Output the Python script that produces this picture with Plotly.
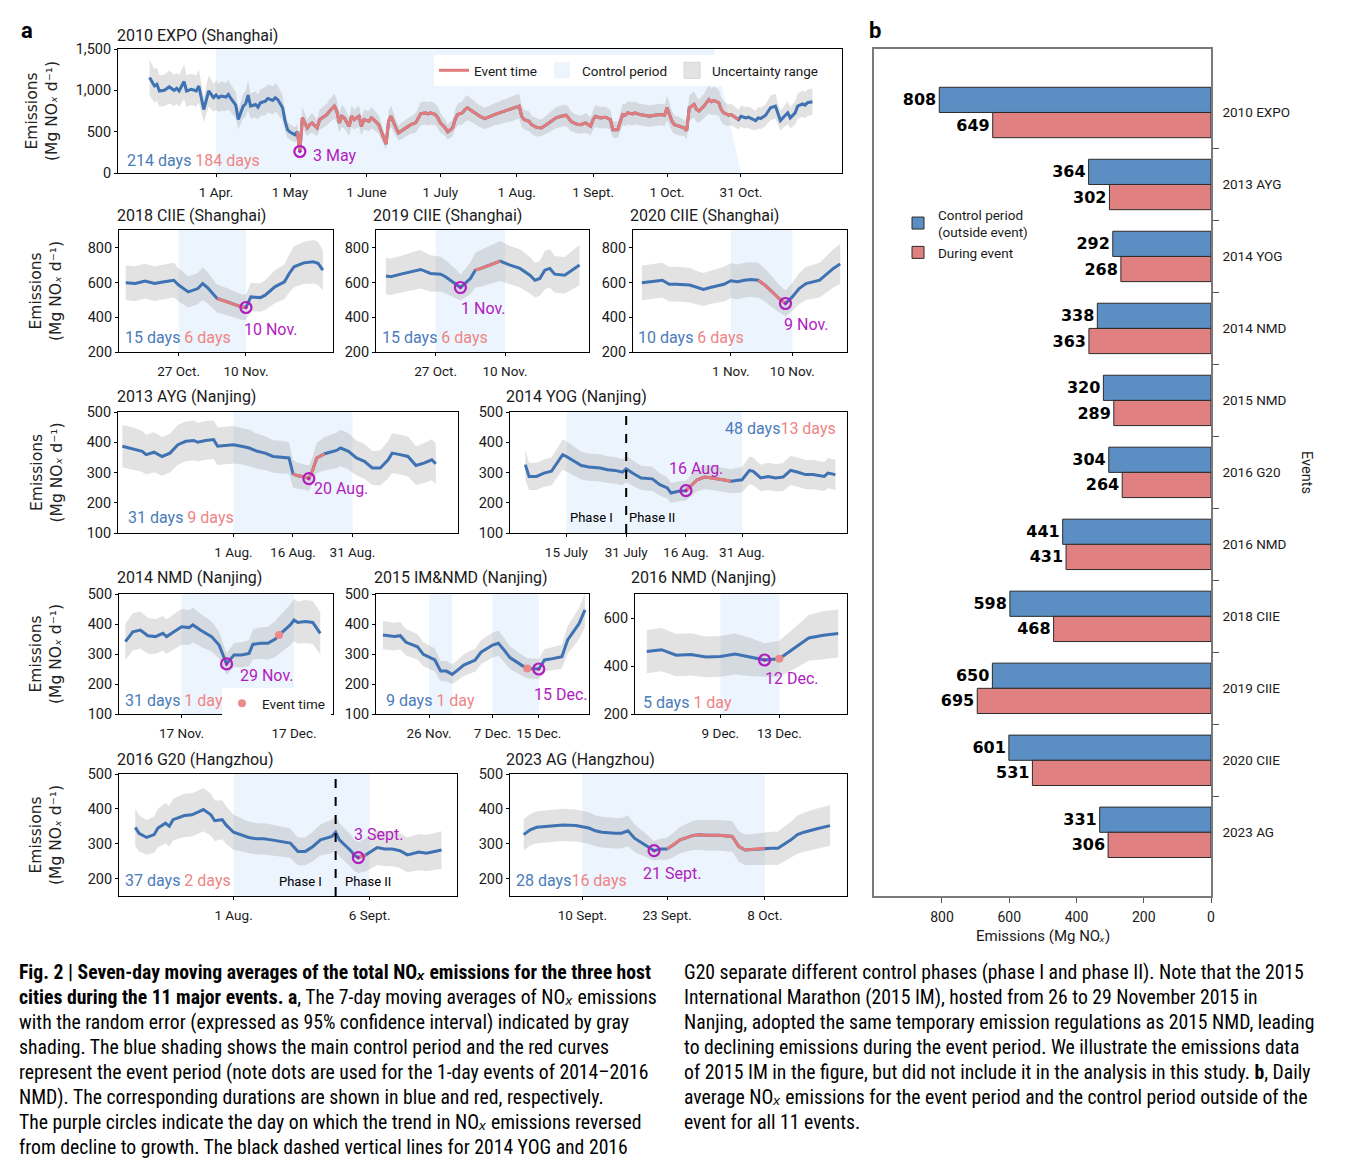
import pandas as pd
import plotly.graph_objects as go

# =========================== DATA ===========================
# Each series: (day offset from base date, 7-day mean NOx emission [Mg NOx/d], half-width of 95% CI)

EXPO_BASE = "2010-04-01"
EXPO = [(-27,1154,220),(-25,1053,200),(-24,1073,200),(-23,992,190),(-21,1000,190),(-19,1041,200),
        (-17,1000,190),(-16,1024,190),(-15,992,190),(-13,1106,210),(-12,992,190),(-10,1012,190),
        (-8,992,190),(-7,1053,200),(-5,768,150),(-4,870,170),(-3,992,190),(-1,911,170),(0,943,180),
        (1,911,170),(2,931,180),(4,919,170),(5,951,180),(6,902,170),(8,821,160),(9,646,120),
        (11,809,150),(12,837,160),(13,943,180),(14,809,150),(16,829,160),(17,797,150),(18,850,160),
        (20,870,170),(21,902,170),(23,878,170),(24,911,170),(25,890,170),(27,789,150),(28,626,120),
        (29,524,100),(30,496,90),(32,463,90),(33,500,100),(34,260,60),(35,667,130),(37,545,100),
        (38,585,110),(39,606,120),(41,545,100),(42,646,120),(44,687,130),(45,707,130),(46,748,140),
        (48,809,150),(49,748,140),(50,606,120),(51,687,130),(52,667,130),(54,565,110),(55,687,130),
        (56,646,120),(58,687,130),(59,565,110),(60,646,120),(62,626,120),(63,667,130),(64,646,120),
        (66,585,110),(67,504,100),(69,350,70),(70,626,120),(71,687,130),(73,545,100),(74,484,90),
        (75,504,100),(77,545,100),(78,565,110),(79,585,110),(81,606,120),(82,659,130),(83,715,140),
        (85,728,140),(86,715,140),(87,728,140),(89,707,130),(90,667,130),(91,606,120),(93,545,100),
        (94,496,90),(96,545,100),(97,646,120),(98,707,130),(100,728,140),(101,768,150),(102,789,150),
        (104,748,140),(105,728,140),(106,707,130),(107,687,130),(109,659,130),(111,687,130),
        (113,707,130),(115,728,140),(117,748,140),(119,768,150),(121,789,150),(123,809,150),
        (124,687,130),(125,646,120),(127,626,120),(128,585,110),(130,553,110),(132,545,100),
        (134,585,110),(136,626,120),(138,667,130),(140,687,130),(142,699,130),(143,667,130),
        (144,626,120),(146,594,110),(148,585,110),(150,606,120),(152,565,110),(153,646,120),
        (154,687,130),(156,667,130),(158,675,130),(160,646,120),(161,524,100),(163,524,100),
        (165,707,130),(166,699,130),(167,728,140),(169,715,140),(170,728,140),(172,707,130),
        (174,699,130),(176,687,130),(178,699,130),(180,707,130),(182,699,130),(183,789,150),
        (185,626,120),(186,585,110),(188,565,110),(190,545,100),(191,512,100),(192,789,150),
        (194,829,160),(195,768,150),(196,748,140),(198,809,150),(200,890,170),(201,862,160),
        (202,878,170),(204,850,160),(205,768,150),(206,728,140),(208,699,130),(209,707,130),
        (210,687,130),(212,646,120),(213,687,130),(215,667,130),(216,675,130),(217,659,130),
        (219,634,120),(220,667,130),(221,659,130),(223,699,130),(224,748,140),(225,789,150),
        (227,809,150),(228,707,130),(229,634,120),(231,699,130),(232,728,140),(233,667,130),
        (235,728,140),(236,809,150),(238,837,160),(239,821,160),(240,850,160),(242,862,160)]
EXPO_EVENT = (33, 212)
EXPO_CTRL = [(0, 213, 202)]          # start, end at bottom, end at top (slanted edge)
EXPO_CIRCLE = 34
EXPO_DUR = ("214 days", "184 days")
EXPO_XTICKS = ["2010-04-01","2010-05-01","2010-06-01","2010-07-01","2010-08-01","2010-09-01","2010-10-01","2010-10-31"]
EXPO_XTEXT = ["1 Apr.","1 May","1 June","1 July","1 Aug.","1 Sept.","1 Oct.","31 Oct."]

CIIE18_BASE = "2018-10-27"
CIIE18 = [(-11,598,100),(-9,594,100),(-7,608,100),(-5,594,100),(-3,604,100),(-1,613,100),(0,585,95),
          (2,546,90),(4,565,90),(5,594,95),(6,571,90),(8,508,80),(10,490,78),(11,479,76),(13,460,74),
          (14,456,74),(15,517,80),(17,513,82),(18,527,86),(20,575,95),(22,604,100),(23,652,110),
          (24,690,118),(26,713,122),(28,719,125),(29,710,125),(30,671,115)]
CIIE18_EVENT = (8, 14)
CIIE18_CTRL = [(0, 14)]
CIIE18_CIRCLE = 14
CIIE18_DUR = ("15 days", "6 days")
CIIE18_XTICKS = ["2018-10-27","2018-11-10"]
CIIE18_XTEXT = ["27 Oct.","10 Nov."]

CIIE19_BASE = "2019-10-27"
CIIE19 = [(-10,637,105),(-9,633,105),(-7,648,105),(-4,671,110),(-3,675,110),(-1,652,105),(1,648,100),
          (2,633,95),(4,594,85),(5,571,75),(7,623,90),(8,671,100),(9,680,105),(11,700,110),(13,723,115),
          (15,700,110),(17,681,110),(19,642,105),(20,613,100),(21,623,100),(22,671,110),(23,681,110),
          (24,648,105),(26,642,105),(27,661,110),(29,700,115)]
CIIE19_EVENT = (8, 13)
CIIE19_CTRL = [(0, 14)]
CIIE19_CIRCLE = 5
CIIE19_DUR = ("15 days", "6 days")
CIIE19_XTICKS = ["2019-10-27","2019-11-10"]
CIIE19_XTEXT = ["27 Oct.","10 Nov."]

CIIE20_BASE = "2020-11-01"
CIIE20 = [(-13,598,100),(-12,604,100),(-10,613,100),(-9,590,100),(-8,590,100),(-6,585,100),(-5,571,95),
          (-4,560,95),(-3,571,95),(-1,590,100),(0,610,100),(1,604,100),(2,613,100),(3,617,100),(4,613,100),
          (5,585,95),(6,548,90),(7,510,80),(8,479,75),(9,517,80),(10,565,90),(11,594,95),(13,613,100),
          (14,648,105),(15,681,110),(16,706,115)]
CIIE20_EVENT = (4, 8)
CIIE20_CTRL = [(0, 9)]
CIIE20_CIRCLE = 8
CIIE20_DUR = ("10 days", "6 days")
CIIE20_XTICKS = ["2020-11-01","2020-11-10"]
CIIE20_XTEXT = ["1 Nov.","10 Nov."]

AYG_BASE = "2013-08-01"
AYG = [(-28,387,70),(-26,381,70),(-23,370,68),(-22,359,66),(-20,367,66),(-18,353,64),(-16,364,64),
       (-14,392,66),(-12,403,66),(-10,406,66),(-9,400,64),(-7,406,64),(-5,409,64),(-4,387,62),(-2,389,62),
       (0,392,62),(2,387,60),(4,381,60),(6,370,58),(8,364,56),(10,353,54),(12,351,54),(14,348,52),
       (15,296,45),(16,290,44),(18,285,42),(19,280,42),(20,309,45),(21,348,50),(23,362,55),(26,373,58),
       (27,381,60),(29,370,60),(31,348,58),(33,337,58),(35,315,56),(37,315,58),(39,342,62),(40,364,66),
       (42,359,66),(44,353,66),(46,323,64),(48,331,66),(50,342,68),(51,329,68)]
AYG_EVENT = (15, 23)
AYG_CTRL = [(0, 30)]
AYG_CIRCLE = 19
AYG_DUR = ("31 days", "9 days")
AYG_XTICKS = ["2013-08-01","2013-08-16","2013-08-31"]
AYG_XTEXT = ["1 Aug.","16 Aug.","31 Aug."]

YOG_BASE = "2014-07-31"
YOG = [(-27,326,50),(-26,287,45),(-24,287,45),(-22,298,45),(-20,304,46),(-17,359,50),(-16,353,50),
       (-14,337,48),(-12,323,46),(-10,318,45),(-7,315,45),(-5,309,44),(-3,307,44),(-1,301,43),(0,312,44),
       (2,296,42),(4,282,40),(7,279,40),(9,260,37),(11,249,35),(12,232,33),(14,238,33),(15,238,33),
       (16,240,33),(19,276,38),(21,285,40),(23,282,40),(26,276,40),(28,271,40),(31,276,42),(33,307,46),
       (34,304,46),(36,282,44),(38,287,45),(40,282,45),(42,285,46),(44,307,48),(46,301,48),(48,293,48),
       (50,293,48),(53,287,48),(54,298,50),(56,293,50)]
YOG_EVENT = (16, 28)
YOG_CTRL = [(-16, 31)]
YOG_CIRCLE = 16
YOG_SPLIT = 0
YOG_DUR = ("48 days", "13 days")
YOG_XTICKS = ["2014-07-15","2014-07-31","2014-08-16","2014-08-31"]
YOG_XTEXT = ["15 July","31 July","16 Aug.","31 Aug."]

NMD14_BASE = "2014-11-17"
NMD14 = [(-15,341,60),(-13,374,62),(-11,380,62),(-9,361,60),(-7,358,58),(-5,369,58),(-4,358,57),
         (-2,374,58),(0,391,60),(2,388,58),(3,397,58),(5,380,55),(8,358,50),(10,330,45),(11,297,40),
         (12,267,36),(14,297,40),(16,297,42),(18,302,44),(19,332,50),(21,336,52),(23,336,55),(25,350,60),
         (26,363,62),(29,397,68),(30,413,70),(31,405,70),(33,408,72),(35,405,72),(37,369,70)]
NMD14_DOT = 26
NMD14_CTRL = [(0, 30)]
NMD14_CIRCLE = 12
NMD14_DUR = ("31 days", "1 day")
NMD14_XTICKS = ["2014-11-17","2014-12-17"]
NMD14_XTEXT = ["17 Nov.","17 Dec."]

NMD15_BASE = "2015-11-26"
NMD15 = [(-8,363,47),(-6,358,46),(-5,361,46),(-4,339,44),(-2,324,42),(-1,299,40),(1,280,38),(2,243,34),
         (3,243,34),(4,232,33),(5,247,34),(6,263,36),(8,280,38),(9,306,40),(11,330,42),(12,336,42),
         (13,313,40),(14,288,38),(16,263,35),(17,252,34),(19,250,34),(20,280,37),(21,283,38),(23,291,40),
         (24,347,46),(26,402,52),(27,447,56)]
NMD15_DOT = 17
NMD15_CTRL = [(0, 4), (11, 19)]
NMD15_CIRCLE = 19
NMD15_DUR = ("9 days", "1 day")
NMD15_XTICKS = ["2015-11-26","2015-12-07","2015-12-15"]
NMD15_XTEXT = ["26 Nov.","7 Dec.","15 Dec."]

NMD16_BASE = "2016-12-09"
NMD16 = [(-5,460,90),(-4,468,90),(-3,445,88),(-2,448,88),(-1,438,85),(0,440,85),(1,450,85),(2,438,80),
         (3,425,70),(4,430,75),(5,472,85),(6,517,95),(7,528,100),(8,535,100)]
NMD16_DOT = 4
NMD16_CTRL = [(0, 4)]
NMD16_CIRCLE = 3
NMD16_DUR = ("5 days", "1 day")
NMD16_XTICKS = ["2016-12-09","2016-12-13"]
NMD16_XTEXT = ["9 Dec.","13 Dec."]

G20_BASE = "2016-08-01"
G20 = [(-26,347,53),(-25,330,52),(-23,318,50),(-21,326,52),(-20,345,55),(-18,359,58),(-17,350,58),
       (-16,369,60),(-13,381,62),(-11,383,62),(-9,393,62),(-8,398,62),(-6,383,60),(-5,366,58),(-3,369,56),
       (-2,354,54),(0,333,50),(2,326,48),(4,318,46),(6,314,45),(8,314,45),(10,311,44),(13,306,43),
       (15,302,42),(17,278,40),(19,278,40),(21,292,42),(23,311,45),(26,321,48),(27,333,50),(28,311,48),
       (31,280,46),(32,266,45),(33,260,45),(34,265,46),(35,268,47),(38,289,50),(40,285,50),(42,285,50),
       (44,280,50),(46,268,50),(49,276,52),(51,273,52),(53,278,53),(55,282,54)]
G20_EVENT = (33, 35)
G20_CTRL = [(0, 36)]
G20_CIRCLE = 33
G20_SPLIT = 27
G20_DUR = ("37 days", "2 days")
G20_XTICKS = ["2016-08-01","2016-09-06"]
G20_XTEXT = ["1 Aug.","6 Sept."]

AG_BASE = "2023-09-10"
AG = [(-9,326,45),(-8,340,45),(-7,347,46),(-5,350,46),(-4,352,46),(-3,354,46),(-1,352,46),(1,345,45),
      (2,337,44),(3,333,44),(5,330,44),(6,330,44),(7,337,44),(8,316,40),(10,292,32),(11,280,28),
      (12,285,30),(13,285,32),(14,297,35),(15,311,38),(17,324,42),(18,326,43),(19,324,44),(21,324,44),
      (23,321,44),(24,292,44),(25,282,44),(27,285,46),(28,287,46),(29,287,47),(30,287,48),(32,311,52),
      (33,326,55),(34,333,56),(36,343,58),(37,347,58),(38,352,58)]
AG_EVENT = (13, 28)
AG_CTRL = [(0, 28)]
AG_CIRCLE = 11
AG_DUR = ("28 days", "16 days")
AG_XTICKS = ["2023-09-10","2023-09-23","2023-10-08"]
AG_XTEXT = ["10 Sept.","23 Sept.","8 Oct."]

# Panel b
BAR_EVENTS = ["2010 EXPO","2013 AYG","2014 YOG","2014 NMD","2015 NMD","2016 G20",
              "2016 NMD","2018 CIIE","2019 CIIE","2020 CIIE","2023 AG"]
BAR_CONTROL = [808, 364, 292, 338, 320, 304, 441, 598, 650, 601, 331]
BAR_DURING = [649, 302, 268, 363, 289, 264, 431, 468, 695, 531, 306]

NOX = "NO<i>ₓ</i>"
CAPTION_LEFT = [
    "<b>Fig. 2 | Seven-day moving averages of the total " + NOX + " emissions for the three host</b>",
    "<b>cities during the 11 major events. a</b>, The 7-day moving averages of " + NOX + " emissions",
    "with the random error (expressed as 95% confidence interval) indicated by gray",
    "shading. The blue shading shows the main control period and the red curves",
    "represent the event period (note dots are used for the 1-day events of 2014–2016",
    "NMD). The corresponding durations are shown in blue and red, respectively.",
    "The purple circles indicate the day on which the trend in " + NOX + " emissions reversed",
    "from decline to growth. The black dashed vertical lines for 2014 YOG and 2016",
]
CAPTION_RIGHT = [
    "G20 separate different control phases (phase I and phase II). Note that the 2015",
    "International Marathon (2015 IM), hosted from 26 to 29 November 2015 in",
    "Nanjing, adopted the same temporary emission regulations as 2015 NMD, leading",
    "to declining emissions during the event period. We illustrate the emissions data",
    "of 2015 IM in the figure, but did not include it in the analysis in this study. <b>b</b>, Daily",
    "average " + NOX + " emissions for the event period and the control period outside of the",
    "event for all 11 events.",
]

# =========================== STYLE / LAYOUT ===========================
W, H, OFF = 1335, 1155, 8


def PX(x):
    return (x - OFF) / W


def PY(y):
    return 1 - (y - OFF) / H


BLUE_LINE = "#3e72b3"
RED_LINE = "#e37b7b"
PURPLE = "#b11cbf"
CTRL_FILL = "#ecf4fd"
BAND_FILL = "rgba(165,165,165,0.32)"
BAND_SWATCH = "#e3e3e3"
BLUE_TXT = "#4a7cb9"
RED_TXT = "#ee8585"
BAR_BLUE = "#5b8fc3"
BAR_RED = "#e18080"
FONT = "Roboto, Noto Sans, sans-serif"
CAP_FONT = "Liberation Sans Narrow, Arial Narrow, Roboto Condensed, Liberation Sans, DejaVu Sans, sans-serif"


def to_dates(base, days):
    b = pd.Timestamp(base)
    return [(b + pd.Timedelta(days=float(d))).strftime("%Y-%m-%d %H:%M") for d in days]


panels = [
    dict(title="2010 EXPO (Shanghai)", data=EXPO, base=EXPO_BASE, event=EXPO_EVENT, dot=None,
         circle=EXPO_CIRCLE, clab="3 May", ctrl=EXPO_CTRL, yr=(0, 1500), yt=[0, 500, 1000, 1500],
         xt=EXPO_XTICKS, xtt=EXPO_XTEXT, dur=EXPO_DUR, split=None,
         box=(118, 842, 49, 173), xr=(-39.8, 254.0), tpos=(115, 35), lpos=(311, 156), dpos=(125, 160),
         dsep=" ", ytitle=42),
    dict(title="2018 CIIE (Shanghai)", data=CIIE18, base=CIIE18_BASE, event=CIIE18_EVENT, dot=None,
         circle=CIIE18_CIRCLE, clab="10 Nov.", ctrl=CIIE18_CTRL, yr=(200, 902), yt=[200, 400, 600, 800],
         xt=CIIE18_XTICKS, xtt=CIIE18_XTEXT, dur=CIIE18_DUR, split=None,
         box=(119, 333, 230, 352), xr=(-12.4, 32.1), tpos=(115, 216), lpos=(242, 329), dpos=(123, 337),
         dsep=" ", ytitle=46),
    dict(title="2019 CIIE (Shanghai)", data=CIIE19, base=CIIE19_BASE, event=CIIE19_EVENT, dot=None,
         circle=CIIE19_CIRCLE, clab="1 Nov.", ctrl=CIIE19_CTRL, yr=(200, 902), yt=[200, 400, 600, 800],
         xt=CIIE19_XTICKS, xtt=CIIE19_XTEXT, dur=CIIE19_DUR, split=None,
         box=(376, 589, 230, 352), xr=(-12.0, 30.9), tpos=(371, 216), lpos=(459, 308), dpos=(380, 337),
         dsep=" ", ytitle=None),
    dict(title="2020 CIIE (Shanghai)", data=CIIE20, base=CIIE20_BASE, event=CIIE20_EVENT, dot=None,
         circle=CIIE20_CIRCLE, clab="9 Nov.", ctrl=CIIE20_CTRL, yr=(200, 902), yt=[200, 400, 600, 800],
         xt=CIIE20_XTICKS, xtt=CIIE20_XTEXT, dur=CIIE20_DUR, split=None,
         box=(633, 847, 230, 352), xr=(-14.3, 17.0), tpos=(628, 216), lpos=(782, 324), dpos=(636, 337),
         dsep=" ", ytitle=None),
    dict(title="2013 AYG (Nanjing)", data=AYG, base=AYG_BASE, event=AYG_EVENT, dot=None,
         circle=AYG_CIRCLE, clab="20 Aug.", ctrl=AYG_CTRL, yr=(100, 500), yt=[100, 200, 300, 400, 500],
         xt=AYG_XTICKS, xtt=AYG_XTEXT, dur=AYG_DUR, split=None,
         box=(118, 458, 412, 533), xr=(-29.1, 56.6), tpos=(115, 396), lpos=(312, 489), dpos=(126, 518),
         dsep=" ", ytitle=46),
    dict(title="2014 YOG (Nanjing)", data=YOG, base=YOG_BASE, event=YOG_EVENT, dot=None,
         circle=YOG_CIRCLE, clab="16 Aug.", ctrl=YOG_CTRL, yr=(100, 500), yt=[100, 200, 300, 400, 500],
         xt=YOG_XTICKS, xtt=YOG_XTEXT, dur=YOG_DUR, split=YOG_SPLIT,
         box=(510, 847, 412, 533), xr=(-31.1, 59.1), tpos=(504, 396), lpos=(667, 468), dpos=(723, 428),
         dsep="", ytitle=None, phase=((591, 518), (652, 518))),
    dict(title="2014 NMD (Nanjing)", data=NMD14, base=NMD14_BASE, event=None, dot=NMD14_DOT,
         circle=NMD14_CIRCLE, clab="29 Nov.", ctrl=NMD14_CTRL, yr=(100, 500), yt=[100, 200, 300, 400, 500],
         xt=NMD14_XTICKS, xtt=NMD14_XTEXT, dur=NMD14_DUR, split=None,
         box=(119, 333, 594, 714), xr=(-16.7, 40.4), tpos=(115, 578), lpos=(238, 675), dpos=(123, 700),
         dsep=" ", ytitle=46, dotlegend=True),
    dict(title="2015 IM&NMD (Nanjing)", data=NMD15, base=NMD15_BASE, event=None, dot=NMD15_DOT,
         circle=NMD15_CIRCLE, clab="15 Dec.", ctrl=NMD15_CTRL, yr=(100, 500), yt=[100, 200, 300, 400, 500],
         xt=NMD15_XTICKS, xtt=NMD15_XTEXT, dur=NMD15_DUR, split=None,
         box=(376, 589, 594, 714), xr=(-9.2, 27.7), tpos=(372, 578), lpos=(532, 694), dpos=(384, 700),
         dsep=" ", ytitle=None),
    dict(title="2016 NMD (Nanjing)", data=NMD16, base=NMD16_BASE, event=None, dot=NMD16_DOT,
         circle=NMD16_CIRCLE, clab="12 Dec.", ctrl=NMD16_CTRL, yr=(200, 700), yt=[200, 400, 600],
         xt=NMD16_XTICKS, xtt=NMD16_XTEXT, dur=NMD16_DUR, split=None,
         box=(635, 847, 594, 714), xr=(-5.8, 8.6), tpos=(629, 578), lpos=(763, 678), dpos=(641, 702),
         dsep=" ", ytitle=None),
    dict(title="2016 G20 (Hangzhou)", data=G20, base=G20_BASE, event=G20_EVENT, dot=None,
         circle=G20_CIRCLE, clab="3 Sept.", ctrl=G20_CTRL, yr=(150, 500), yt=[200, 300, 400, 500],
         xt=G20_XTICKS, xtt=G20_XTEXT, dur=G20_DUR, split=G20_SPLIT,
         box=(119, 457, 774, 896), xr=(-30.3, 59.1), tpos=(115, 759), lpos=(352, 834), dpos=(123, 880),
         dsep=" ", ytitle=46, phase=((300, 881), (368, 881))),
    dict(title="2023 AG (Hangzhou)", data=AG, base=AG_BASE, event=AG_EVENT, dot=None,
         circle=AG_CIRCLE, clab="21 Sept.", ctrl=AG_CTRL, yr=(150, 500), yt=[200, 300, 400, 500],
         xt=AG_XTICKS, xtt=AG_XTEXT, dur=AG_DUR, split=None,
         box=(510, 847, 774, 896), xr=(-11.1, 40.6), tpos=(504, 759), lpos=(641, 873), dpos=(514, 880),
         dsep="", ytitle=None),
]

fig = go.Figure()
layout = {}
annotations = []
shapes = []

AX_COMMON = dict(showline=True, linecolor="black", linewidth=1, mirror=True, ticks="outside",
                 ticklen=3, tickwidth=1, tickcolor="black", showgrid=False, zeroline=False,
                 automargin=False)


def ann(text, x, y, size=14, color="#1a1a1a", xanchor="left", family=FONT, angle=0, yanchor="middle"):
    annotations.append(dict(text=text, x=PX(x), y=PY(y), xref="paper", yref="paper", showarrow=False,
                            xanchor=xanchor, yanchor=yanchor, textangle=angle,
                            font=dict(size=size, color=color, family=family)))


# legend-only entries for panel a (square swatches)
fig.add_trace(go.Scatter(x=[None], y=[None], mode="lines", line=dict(color=RED_LINE, width=3),
                         name="Event time", legendrank=1))
fig.add_trace(go.Scatter(x=[None], y=[None], mode="markers", name="Control period", legendrank=2,
                         marker=dict(symbol="square", size=16, color=CTRL_FILL)))
fig.add_trace(go.Scatter(x=[None], y=[None], mode="markers", name="Uncertainty range", legendrank=3,
                         marker=dict(symbol="square", size=16, color=BAND_SWATCH,
                                     line=dict(color="#d6d6d6", width=1))))

for i, p in enumerate(panels, start=1):
    sx = "" if i == 1 else str(i)
    xa, ya = "x" + sx, "y" + sx
    base = p["base"]
    days = [r[0] for r in p["data"]]
    vals = [r[1] for r in p["data"]]
    errs = [r[2] for r in p["data"]]
    dates = to_dates(base, days)
    y0, y1 = p["yr"]

    # control period shading
    for c in p["ctrl"]:
        cx = [c[0], c[0], c[2], c[1]] if len(c) == 3 else [c[0], c[0], c[1], c[1]]
        fig.add_trace(go.Scatter(x=to_dates(base, cx), y=[y0, y1, y1, y0], fill="toself",
                                 fillcolor=CTRL_FILL, line=dict(width=0), mode="lines",
                                 hoverinfo="skip", xaxis=xa, yaxis=ya, showlegend=False))
    # uncertainty band
    fig.add_trace(go.Scatter(x=dates, y=[v + e for v, e in zip(vals, errs)], mode="lines",
                             line=dict(width=0, color=BAND_FILL), hoverinfo="skip",
                             xaxis=xa, yaxis=ya, showlegend=False))
    fig.add_trace(go.Scatter(x=dates, y=[v - e for v, e in zip(vals, errs)], mode="lines",
                             line=dict(width=0, color=BAND_FILL), fill="tonexty", fillcolor=BAND_FILL,
                             hoverinfo="skip", xaxis=xa, yaxis=ya, showlegend=False))
    # main line
    fig.add_trace(go.Scatter(x=dates, y=vals, mode="lines", line=dict(color=BLUE_LINE, width=3),
                             xaxis=xa, yaxis=ya, showlegend=False))
    # event period
    if p["event"] is not None:
        e0, e1 = p["event"]
        sel = [(d, v) for d, v in zip(days, vals) if e0 <= d <= e1]
        fig.add_trace(go.Scatter(x=to_dates(base, [s[0] for s in sel]), y=[s[1] for s in sel],
                                 mode="lines", line=dict(color=RED_LINE, width=3),
                                 xaxis=xa, yaxis=ya, showlegend=False))
    # purple reversal circle
    cv = vals[days.index(p["circle"])]
    fig.add_trace(go.Scatter(x=to_dates(base, [p["circle"]]), y=[cv], mode="markers",
                             marker=dict(symbol="circle-open-dot", size=11, color=PURPLE,
                                         line=dict(width=2.2, color=PURPLE)),
                             xaxis=xa, yaxis=ya, showlegend=False))
    # one-day event dot
    if p["dot"] is not None:
        dv = vals[days.index(p["dot"])]
        fig.add_trace(go.Scatter(x=to_dates(base, [p["dot"]]), y=[dv], mode="markers",
                                 marker=dict(symbol="circle", size=8, color="#ec8a8a"),
                                 xaxis=xa, yaxis=ya, name="Event time",
                                 showlegend=bool(p.get("dotlegend")), legend="legend3"))
    # phase split
    if p["split"] is not None:
        sd = to_dates(base, [p["split"]])[0]
        shapes.append(dict(type="line", xref=xa, yref=ya + " domain", x0=sd, x1=sd, y0=0, y1=1,
                           line=dict(color="black", width=2, dash="dash")))
        (pa, pb) = p["phase"]
        ann("Phase I", pa[0], pa[1], size=13, xanchor="center", color="black")
        ann("Phase II", pb[0], pb[1], size=13, xanchor="center", color="black")

    x0, x1, yt, yb = p["box"]
    layout["xaxis" + sx] = dict(domain=[PX(x0), PX(x1)], anchor=ya, type="date",
                                range=to_dates(base, p["xr"]), tickmode="array", tickvals=p["xt"],
                                ticktext=p["xtt"], tickfont=dict(size=13.5, color="#1a1a1a"),
                                ticklabelstandoff=4, **AX_COMMON)
    layout["yaxis" + sx] = dict(domain=[PY(yb), PY(yt)], anchor=xa, range=list(p["yr"]),
                                tickmode="array", tickvals=p["yt"], tickformat=",",
                                tickfont=dict(size=14.5, color="#1a1a1a"), **AX_COMMON)

    # texts
    ann(p["title"], p["tpos"][0], p["tpos"][1], size=16)
    ann(p["clab"], p["lpos"][0], p["lpos"][1], size=16, color=PURPLE)
    ann('<span style="color:%s;font-size:16px">%s</span>%s<span style="color:%s;font-size:16px">%s</span>'
        % (BLUE_TXT, p["dur"][0], p["dsep"], RED_TXT, p["dur"][1]),
        p["dpos"][0], p["dpos"][1], size=16)
    if p["ytitle"] is not None:
        ann("Emissions<br>(Mg " + NOX + " d⁻¹)", p["ytitle"], (yt + yb) / 2,
            size=15.5, xanchor="center", family="DejaVu Sans, sans-serif", angle=-90, color="#222")

# ---------------- panel b: bars ----------------
IDX = list(range(len(BAR_EVENTS)))
fig.add_trace(go.Bar(x=BAR_CONTROL, y=[i - 0.175 for i in IDX], orientation="h", width=0.35,
                     marker=dict(color=BAR_BLUE, line=dict(color="#2b2b2b", width=1)),
                     text=BAR_CONTROL, texttemplate="<b>%{x}</b>", textposition="outside",
                     constraintext="none", cliponaxis=False,
                     textfont=dict(size=16, color="black", family="DejaVu Sans, sans-serif"),
                     xaxis="x12", yaxis="y12", name="Control period<br>(outside event)",
                     legend="legend2", hoverinfo="skip"))
fig.add_trace(go.Bar(x=BAR_DURING, y=[i + 0.175 for i in IDX], orientation="h", width=0.35,
                     marker=dict(color=BAR_RED, line=dict(color="#2b2b2b", width=1)),
                     text=BAR_DURING, texttemplate="<b>%{x}</b>", textposition="outside",
                     constraintext="none", cliponaxis=False,
                     textfont=dict(size=16, color="black", family="DejaVu Sans, sans-serif"),
                     xaxis="x12", yaxis="y12", name="During event",
                     legend="legend2", hoverinfo="skip"))

layout["xaxis12"] = dict(domain=[PX(874), PX(1211)], anchor="y12", range=[1002, 0],
                         tickmode="array", tickvals=[0, 200, 400, 600, 800],
                         ticks="outside", ticklen=5, tickcolor="#555", showline=True,
                         linecolor="#7a7a7a", linewidth=1.5, mirror=True, showgrid=False, zeroline=False,
                         tickfont=dict(size=14, color="#1a1a1a"), ticklabelstandoff=2, automargin=False)
layout["yaxis12"] = dict(domain=[PY(896), PY(49)], anchor="x12", range=[10.885, -0.882],
                         side="right", tickmode="array", tickvals=IDX, ticktext=BAR_EVENTS,
                         ticks="", showline=True, linecolor="#7a7a7a", linewidth=1.5, mirror=True,
                         showgrid=False, zeroline=False, ticklabelstandoff=7, automargin=False,
                         tickfont=dict(size=13.5, color="#1a1a1a"),
                         minor=dict(tickmode="array", tickvals=[i + 0.5 for i in IDX[:-1]],
                                    ticks="outside", ticklen=6, tickcolor="#555", showgrid=False))

ann("Emissions (Mg " + NOX + ")", 1043, 936, size=15, xanchor="center")
ann("Events", 1307, 472, size=14.5, xanchor="center", angle=90)
ann("<b>a</b>", 19, 31, size=22, color="black")
ann("<b>b</b>", 867, 31, size=22, color="black")

# caption
for k, line in enumerate(CAPTION_LEFT):
    ann(line, 17, 972 + 25 * k, size=19.7, family=CAP_FONT, color="black")
for k, line in enumerate(CAPTION_RIGHT):
    ann(line, 682, 972 + 25 * k, size=19.7, family=CAP_FONT, color="black")

fig.update_layout(
    template="none",
    width=W, height=H, margin=dict(l=0, r=0, t=0, b=0, pad=0, autoexpand=False),
    paper_bgcolor="white", plot_bgcolor="white",
    font=dict(family=FONT, size=14, color="#1a1a1a"),
    barmode="overlay", showlegend=True,
    legend=dict(x=PX(434), y=PY(55), xanchor="left", yanchor="top", orientation="h",
                bgcolor="white", font=dict(size=13.5), itemwidth=30, traceorder="normal"),
    legend2=dict(x=PX(898), y=PY(199), xanchor="left", yanchor="top", orientation="v",
                 bgcolor="rgba(255,255,255,0)", font=dict(size=13.5), itemwidth=30),
    legend3=dict(x=PX(222), y=PY(688), xanchor="left", yanchor="top", orientation="h",
                 bgcolor="white", font=dict(size=13.5), itemwidth=30),
    annotations=annotations, shapes=shapes,
    **layout,
)

fig.write_html("out.html")
